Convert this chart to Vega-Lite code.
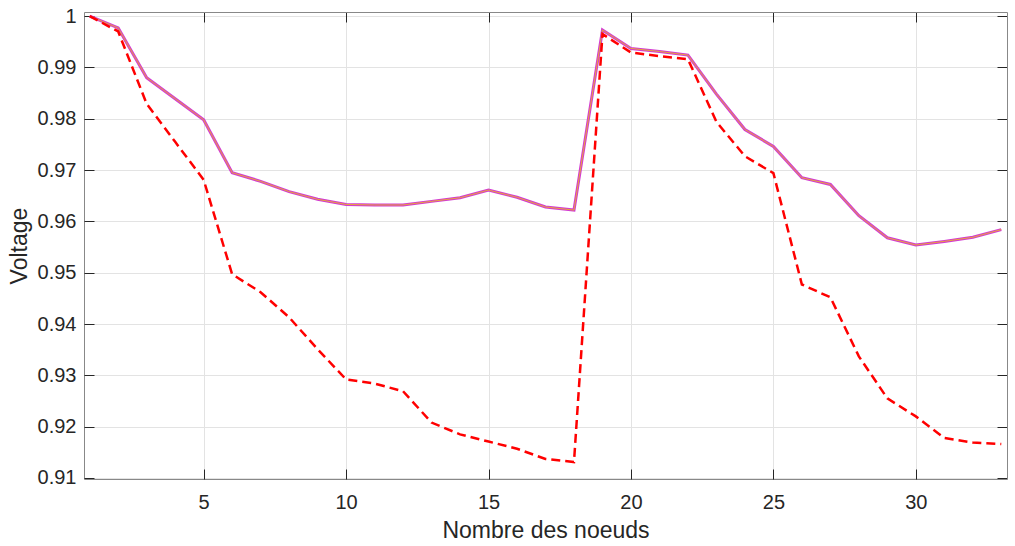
{
  "$schema": "https://vega.github.io/schema/vega-lite/v6.json",
  "autosize": {"type": "none"},
  "padding": {"left": 84, "top": 12, "right": 8, "bottom": 67},
  "width": 923,
  "height": 467,
  "background": "white",
  "config": {
    "font": "Liberation Sans",
    "view": {"stroke": null},
    "axis": {
      "labelFont": "Liberation Sans",
      "titleFont": "Liberation Sans",
      "labelColor": "#262626",
      "titleColor": "#262626",
      "titleFontWeight": "normal",
      "domainColor": "#888888",
      "tickColor": "#262626",
      "gridColor": "#e3e3e3",
      "labelFontSize": 20,
      "titleFontSize": 23
    }
  },
  "datasets": {
    "v": [
      {"node": 1, "series": "base", "voltage": 1.0},
      {"node": 2, "series": "base", "voltage": 0.997},
      {"node": 3, "series": "base", "voltage": 0.9829},
      {"node": 4, "series": "base", "voltage": 0.9755},
      {"node": 5, "series": "base", "voltage": 0.9681},
      {"node": 6, "series": "base", "voltage": 0.9497},
      {"node": 7, "series": "base", "voltage": 0.9462},
      {"node": 8, "series": "base", "voltage": 0.9413},
      {"node": 9, "series": "base", "voltage": 0.9351},
      {"node": 10, "series": "base", "voltage": 0.9292},
      {"node": 11, "series": "base", "voltage": 0.9284},
      {"node": 12, "series": "base", "voltage": 0.9269},
      {"node": 13, "series": "base", "voltage": 0.9208},
      {"node": 14, "series": "base", "voltage": 0.9185},
      {"node": 15, "series": "base", "voltage": 0.9171},
      {"node": 16, "series": "base", "voltage": 0.9157},
      {"node": 17, "series": "base", "voltage": 0.9137},
      {"node": 18, "series": "base", "voltage": 0.9131},
      {"node": 19, "series": "base", "voltage": 0.9965},
      {"node": 20, "series": "base", "voltage": 0.9929},
      {"node": 21, "series": "base", "voltage": 0.9922},
      {"node": 22, "series": "base", "voltage": 0.9916},
      {"node": 23, "series": "base", "voltage": 0.9794},
      {"node": 24, "series": "base", "voltage": 0.9727},
      {"node": 25, "series": "base", "voltage": 0.9694},
      {"node": 26, "series": "base", "voltage": 0.9477},
      {"node": 27, "series": "base", "voltage": 0.9452},
      {"node": 28, "series": "base", "voltage": 0.9337},
      {"node": 29, "series": "base", "voltage": 0.9255},
      {"node": 30, "series": "base", "voltage": 0.922},
      {"node": 31, "series": "base", "voltage": 0.9178},
      {"node": 32, "series": "base", "voltage": 0.9169},
      {"node": 33, "series": "base", "voltage": 0.9166},
      {"node": 1, "series": "dg", "voltage": 1.0},
      {"node": 2, "series": "dg", "voltage": 0.9977},
      {"node": 3, "series": "dg", "voltage": 0.988},
      {"node": 4, "series": "dg", "voltage": 0.9839},
      {"node": 5, "series": "dg", "voltage": 0.9798},
      {"node": 6, "series": "dg", "voltage": 0.9695},
      {"node": 7, "series": "dg", "voltage": 0.9678},
      {"node": 8, "series": "dg", "voltage": 0.9658},
      {"node": 9, "series": "dg", "voltage": 0.9643},
      {"node": 10, "series": "dg", "voltage": 0.9633},
      {"node": 11, "series": "dg", "voltage": 0.9632},
      {"node": 12, "series": "dg", "voltage": 0.9632},
      {"node": 13, "series": "dg", "voltage": 0.9639},
      {"node": 14, "series": "dg", "voltage": 0.9646},
      {"node": 15, "series": "dg", "voltage": 0.9661},
      {"node": 16, "series": "dg", "voltage": 0.9647},
      {"node": 17, "series": "dg", "voltage": 0.9628},
      {"node": 18, "series": "dg", "voltage": 0.9622},
      {"node": 19, "series": "dg", "voltage": 0.9973},
      {"node": 20, "series": "dg", "voltage": 0.9937},
      {"node": 21, "series": "dg", "voltage": 0.9931},
      {"node": 22, "series": "dg", "voltage": 0.9924},
      {"node": 23, "series": "dg", "voltage": 0.9848},
      {"node": 24, "series": "dg", "voltage": 0.9779},
      {"node": 25, "series": "dg", "voltage": 0.9746},
      {"node": 26, "series": "dg", "voltage": 0.9685},
      {"node": 27, "series": "dg", "voltage": 0.9672},
      {"node": 28, "series": "dg", "voltage": 0.9611},
      {"node": 29, "series": "dg", "voltage": 0.9568},
      {"node": 30, "series": "dg", "voltage": 0.9554},
      {"node": 31, "series": "dg", "voltage": 0.9561},
      {"node": 32, "series": "dg", "voltage": 0.9569},
      {"node": 33, "series": "dg", "voltage": 0.9584}
    ]
  },
  "data": {"name": "v"},
  "resolve": {"axis": {"x": "independent", "y": "independent"}},
  "layer": [
    {
      "transform": [{"filter": "datum.series === 'dg'"}],
      "mark": {"type": "line", "color": "#d23bd2", "strokeWidth": 3},
      "encoding": {
        "x": {
          "field": "node", "type": "quantitative",
          "scale": {"domain": [0.8, 33.2], "nice": false, "zero": false},
          "axis": {
            "title": "Nombre des noeuds",
            "values": [5, 10, 15, 20, 25, 30],
            "grid": true,
            "ticks": false,
            "labelPadding": 13,
            "titlePadding": 7
          }
        },
        "y": {
          "field": "voltage", "type": "quantitative",
          "scale": {"domain": [0.9098, 1.0008], "nice": false, "zero": false},
          "axis": {
            "title": "Voltage",
            "values": [0.91, 0.92, 0.93, 0.94, 0.95, 0.96, 0.97, 0.98, 0.99, 1.0],
            "format": ".2~f",
            "grid": true,
            "ticks": false,
            "labelPadding": 8,
            "titlePadding": 6
          }
        }
      }
    },
    {
      "transform": [{"filter": "datum.series === 'dg'"}],
      "mark": {"type": "line", "color": "#e8a53a", "strokeWidth": 1},
      "encoding": {
        "x": {"field": "node", "type": "quantitative", "axis": null},
        "y": {"field": "voltage", "type": "quantitative", "axis": null}
      }
    },
    {
      "transform": [{"filter": "datum.series === 'base'"}],
      "mark": {"type": "line", "color": "#ff0000", "strokeWidth": 2.5, "strokeDash": [9, 5]},
      "encoding": {
        "x": {"field": "node", "type": "quantitative", "axis": null},
        "y": {"field": "voltage", "type": "quantitative", "axis": null}
      }
    },
    {
      "mark": {"type": "line", "opacity": 0},
      "encoding": {
        "x": {"field": "node", "type": "quantitative",
          "axis": {"orient": "top", "offset": -467, "values": [5, 10, 15, 20, 25, 30], "labels": false, "domain": false, "grid": false, "tickSize": 10, "title": null}},
        "y": {"field": "voltage", "type": "quantitative", "axis": null}
      }
    },
    {
      "mark": {"type": "line", "opacity": 0},
      "encoding": {
        "x": {"field": "node", "type": "quantitative",
          "axis": {"orient": "bottom", "offset": -467, "values": [5, 10, 15, 20, 25, 30], "labels": false, "domain": true, "grid": false, "tickSize": 10, "title": null}},
        "y": {"field": "voltage", "type": "quantitative", "axis": null}
      }
    },
    {
      "mark": {"type": "line", "opacity": 0},
      "encoding": {
        "x": {"field": "node", "type": "quantitative", "axis": null},
        "y": {"field": "voltage", "type": "quantitative",
          "axis": {"orient": "right", "offset": -923, "values": [0.91, 0.92, 0.93, 0.94, 0.95, 0.96, 0.97, 0.98, 0.99, 1.0], "labels": false, "domain": false, "grid": false, "tickSize": 10, "title": null}}
      }
    },
    {
      "mark": {"type": "line", "opacity": 0},
      "encoding": {
        "x": {"field": "node", "type": "quantitative", "axis": null},
        "y": {"field": "voltage", "type": "quantitative",
          "axis": {"orient": "left", "offset": -923, "values": [0.91, 0.92, 0.93, 0.94, 0.95, 0.96, 0.97, 0.98, 0.99, 1.0], "labels": false, "domain": true, "grid": false, "tickSize": 10, "title": null}}
      }
    }
  ]
}
